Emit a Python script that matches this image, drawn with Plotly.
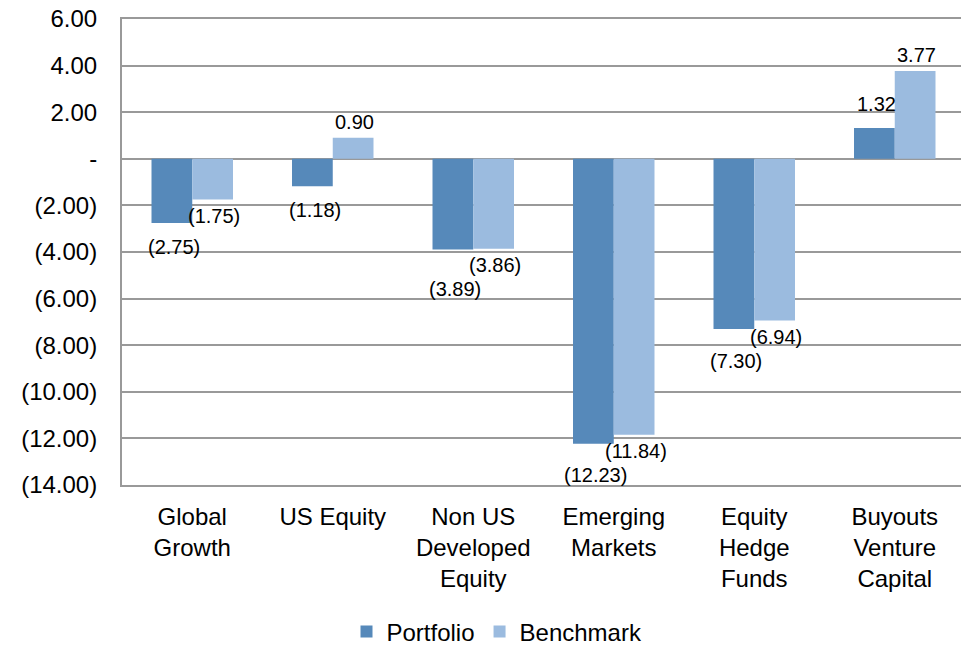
import plotly.graph_objects as go

categories = ["Global<br>Growth", "US Equity", "Non US<br>Developed<br>Equity",
              "Emerging<br>Markets", "Equity<br>Hedge<br>Funds", "Buyouts<br>Venture<br>Capital"]
portfolio = [-2.75, -1.18, -3.89, -12.23, -7.30, 1.32]
benchmark = [-1.75, 0.90, -3.86, -11.84, -6.94, 3.77]
tick_vals = [6, 4, 2, 0, -2, -4, -6, -8, -10, -12, -14]
tick_text = ["6.00", "4.00", "2.00", "-", "(2.00)", "(4.00)", "(6.00)", "(8.00)",
             "(10.00)", "(12.00)", "(14.00)"]

C_PORT = "#5689BA"
C_BENCH = "#9BBBDF"
C_GRID = "#999999"
FONT = "Liberation Sans, Arial, sans-serif"

# page body has an 8px default margin; size the figure to fill the rest of the window
W, H = 961, 638
Y_MIN, Y_MAX = -14, 6
MT, MB, ML, MR = 11, 161, 114, 4
PLOT_H = H - MT - MB
PLOT_W = W - ML - MR
PX = PLOT_H / (Y_MAX - Y_MIN)  # pixels per unit


def fmt(v):
    return f"({abs(v):.2f})" if v < 0 else f"{v:.2f}"


fig = go.Figure()
fig.add_trace(go.Bar(x=categories, y=portfolio, name="Portfolio", marker_color=C_PORT,
                     marker_line_width=0))
fig.add_trace(go.Bar(x=categories, y=benchmark, name="Benchmark", marker_color=C_BENCH,
                     marker_line_width=0))

lab_font = dict(family=FONT, size=20, color="#000")
for i, cat in enumerate(categories):
    p, b = portfolio[i], benchmark[i]
    sign_b = -1 if b < 0 else 1
    fig.add_annotation(x=cat, y=b, text=fmt(b), showarrow=False,
                       xshift=22, yshift=sign_b * 16, font=lab_font)
    if p < 0:
        dp, db = -p * PX, max(-b, 0) * PX
        depth = max(dp + 24, db + 40)
        ys = -(depth - dp)
    else:
        ys = 24
    fig.add_annotation(x=cat, y=p, text=fmt(p), showarrow=False,
                       xshift=-18, yshift=ys, font=lab_font)

fig.update_layout(
    width=W, height=H,
    barmode="group", bargap=0.42, bargroupgap=0,
    plot_bgcolor="white", paper_bgcolor="white",
    margin=dict(l=ML, r=MR, t=MT, b=MB, autoexpand=False),
    font=dict(family=FONT, size=24, color="#000"),
    legend=dict(orientation="h", x=(489 - ML) / PLOT_W, xanchor="center",
                y=-147 / PLOT_H, yanchor="middle",
                font=dict(size=24), itemwidth=30, traceorder="normal"),
    showlegend=True,
)
fig.update_yaxes(range=[Y_MIN, Y_MAX], tickvals=tick_vals, ticktext=tick_text,
                 showgrid=True, gridcolor=C_GRID, gridwidth=2,
                 zeroline=True, zerolinecolor=C_GRID, zerolinewidth=2,
                 showline=True, linecolor=C_GRID, linewidth=2,
                 ticks="", ticklabelstandoff=18, ticklabeloverflow="allow",
                 automargin=False, tickfont=dict(size=24))
fig.update_xaxes(showgrid=False, showline=True, mirror=True, linecolor=C_GRID, linewidth=2,
                 ticks="", automargin=False, ticklabelstandoff=9, tickfont=dict(size=24))

fig.write_html("out.html")
